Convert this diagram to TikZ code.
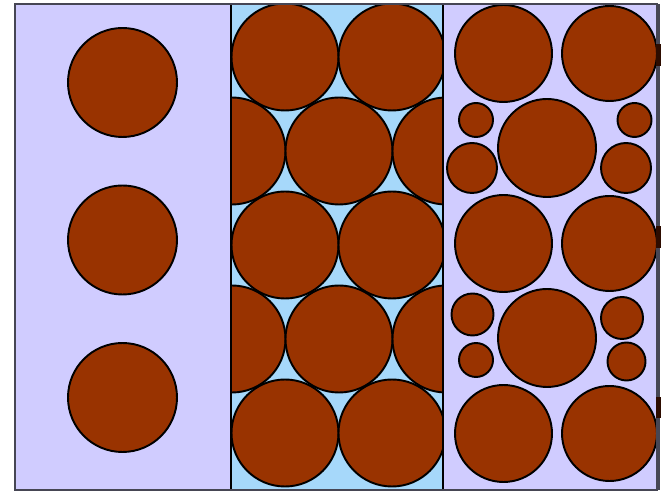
\documentclass[tikz,border=0pt]{standalone}
\definecolor{lavender}{RGB}{208,204,255}
\definecolor{skyblue}{RGB}{166,216,250}
\definecolor{brick}{RGB}{153,51,0}
\definecolor{framegrey}{RGB}{70,70,84}
\definecolor{darkbrick}{RGB}{45,12,0}

\begin{document}
\begin{tikzpicture}[x={(0.02cm,0cm)},y={(0cm,-0.02cm)},ball/.style={fill=brick,draw=black,line width=1.1pt}]
\useasboundingbox (0,0) rectangle (666,492);

\fill[lavender] (15,4) rectangle (657,490);
\fill[skyblue]  (231,4) rectangle (443,490);

% left panel
\draw[ball] (122.5,82.5) circle (54.5);
\draw[ball] (122.5,240) circle (54.5);
\draw[ball] (122.5,397.5) circle (54.5);

% middle panel
\begin{scope}
\clip (231,4) rectangle (443,490);
\draw[ball] (285,57)  circle (53.5);
\draw[ball] (392,57)  circle (53.5);

\draw[ball] (232,151) circle (53.5);
\draw[ball] (339,151) circle (53.5);
\draw[ball] (446,151) circle (53.5);

\draw[ball] (285,245) circle (53.5);
\draw[ball] (392,245) circle (53.5);

\draw[ball] (232,339) circle (53.5);
\draw[ball] (339,339) circle (53.5);
\draw[ball] (446,339) circle (53.5);

\draw[ball] (285,433) circle (53.5);
\draw[ball] (392,433) circle (53.5);
\end{scope}

% right panel
\draw[ball] (503.5,53.5) circle (48.5);
\draw[ball] (609.5,53.5) circle (47.5);

\draw[ball] (476,120)   circle (17);
\draw[ball] (634.5,120) circle (17);
\draw[ball] (547,148)   circle (49);
\draw[ball] (472,168)   circle (25);
\draw[ball] (626,168)   circle (25);

\draw[ball] (503.5,243.5) circle (48.5);
\draw[ball] (609.5,243.5) circle (47.5);

\draw[ball] (472.5,314.5) circle (21);
\draw[ball] (622,318)     circle (21);
\draw[ball] (547,338)     circle (49);
\draw[ball] (476,360)     circle (17);
\draw[ball] (626.5,361.5) circle (19);

\draw[ball] (503.5,433.5) circle (48.5);
\draw[ball] (609.5,433.5) circle (47.5);

% dividers and frame
\draw[line width=1.5pt] (231,4) -- (231,490);
\draw[line width=1.5pt] (443,4) -- (443,490);
\draw[framegrey,line width=1.2pt] (15,4) rectangle (657,490);
\draw[framegrey,line width=2.4pt] (658,4) -- (658,490);

\fill[darkbrick] (656,44)  rectangle (661,66);
\fill[darkbrick] (656,226) rectangle (661,248);
\fill[darkbrick] (656,397) rectangle (661,418);
\end{tikzpicture}
\end{document}
